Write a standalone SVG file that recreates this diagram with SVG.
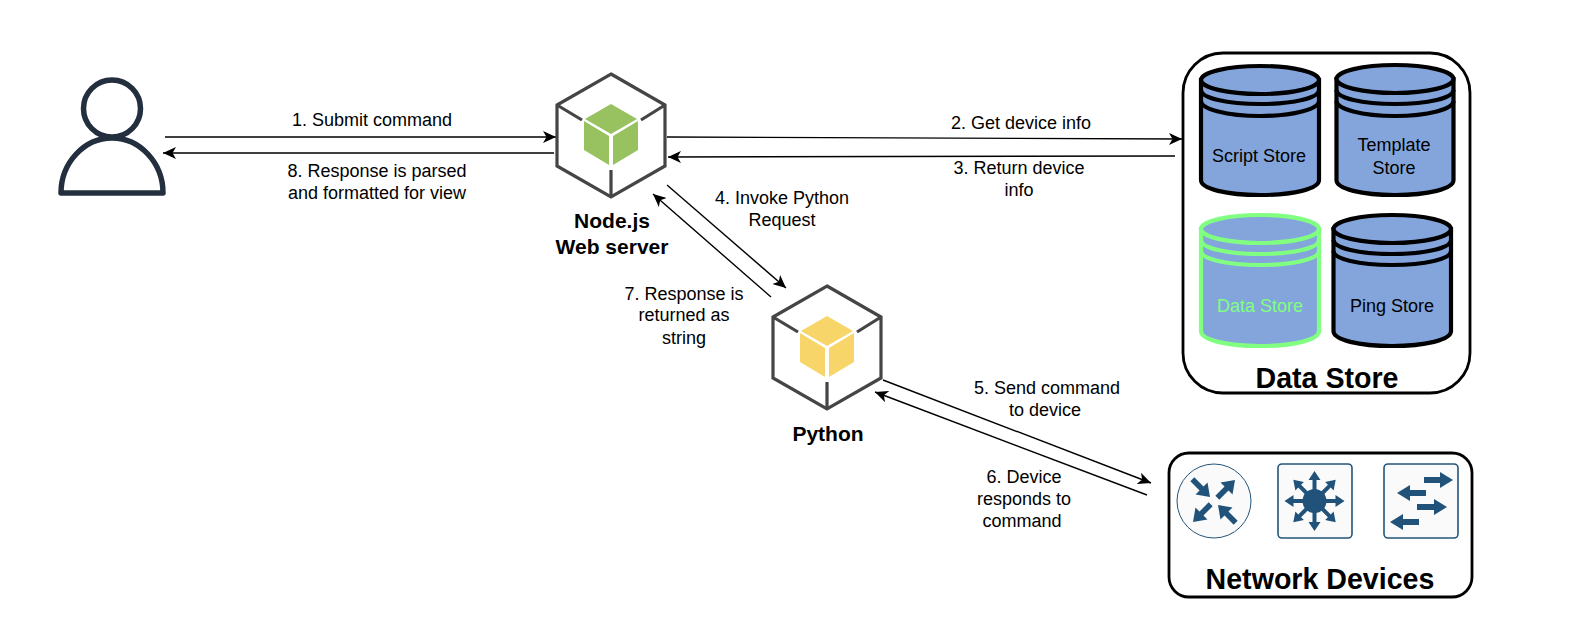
<svg xmlns="http://www.w3.org/2000/svg" width="1574" height="642" viewBox="0 0 1574 642">
<style>
text{font-family:"Liberation Sans",Arial,sans-serif;text-anchor:middle;fill:#000}
.l{font-size:18px}
.b{font-weight:bold;font-size:21px}
.t{font-weight:bold;font-size:28.600px}
.c{fill:none;stroke:#000;stroke-width:1.4}
.hex{fill:none;stroke:#454545;stroke-width:3.2}
.box{fill:#fff;stroke:#000;stroke-width:2.8}
.dev{fill:#fafafa;stroke:#23557a;stroke-width:1.6}
.da{fill:#21527a;stroke:none}
.db{fill:#84a5dc;stroke:#000;stroke-width:4.2}
.db .n{fill:none}
.db text{stroke:none}
.green{stroke:#80ff80}
</style>
<defs>
<marker id="a" markerWidth="15" markerHeight="12" refX="13" refY="6" orient="auto" markerUnits="userSpaceOnUse"><path d="M0,0 L13,6 L0,12 L3.5,6 Z" fill="#000"/></marker>
<g id="cube">
<path class="hex" d="M0,-61 L54,-30 V31 L0,62 L-54,31 V-30 Z M-54,-30 L-29,-15 M54,-30 L30,-15 M0,35 V62"/>
</g>
<path id="spoke" d="M-2,0 V-21 H-6 L0,-30 L6,-21 H2 V0 Z"/>
<path id="rarrow" d="M-2.800,25 V12 H-8.500 L0,0 L8.500,12 H2.800 V25 Z"/>
</defs>
<rect width="1574" height="642" fill="#fff"/>

<g id="connectors">
<path class="c" marker-end="url(#a)" d="M165,137 L556,137"/>
<path class="c" marker-end="url(#a)" d="M554,153 L163,153"/>
<path class="c" marker-end="url(#a)" d="M667,137 L1182,139"/>
<path class="c" marker-end="url(#a)" d="M1175,156 L668,157"/>
<path class="c" marker-end="url(#a)" d="M667,185 L786,288"/>
<path class="c" marker-end="url(#a)" d="M771,297 L653,194"/>
<path class="c" marker-end="url(#a)" d="M883,380 L1151,483"/>
<path class="c" marker-end="url(#a)" d="M1147,495 L875,392"/>
</g>
<g id="connector-labels">
<text class="l" x="372" y="126">1. Submit command</text>
<text class="l" x="377" y="177">8. Response is parsed</text>
<text class="l" x="377" y="199">and formatted for view</text>
<text class="l" x="1021" y="129">2. Get device info</text>
<text class="l" x="1019" y="174">3. Return device</text>
<text class="l" x="1019" y="196">info</text>
<text class="l" x="782" y="204">4. Invoke Python</text>
<text class="l" x="782" y="226">Request</text>
<text class="l" x="684" y="300">7. Response is</text>
<text class="l" x="684" y="321">returned as</text>
<text class="l" x="684" y="344">string</text>
<text class="l" x="1047" y="394">5. Send command</text>
<text class="l" x="1045" y="416">to device</text>
<text class="l" x="1024" y="483">6. Device</text>
<text class="l" x="1024" y="505">responds to</text>
<text class="l" x="1022" y="527">command</text>
</g>

<g id="user" fill="none" stroke="#232f3e" stroke-width="5.500" stroke-linejoin="round">
<circle cx="112" cy="108.500" r="28.500"/>
<path d="M61,193 C61,163 84,138 112,138 C140,138 163,163 163,193 Z"/>
</g>

<g id="nodejs">
<g transform="translate(611,135)">
<use href="#cube"/>
<path fill="#97c25f" d="M0,-31 L26,-16 L0,-1 L-26,-16 Z M-27,-14 L-2,1 V30 L-27,15 Z M27,-14 L2,1 V30 L27,15 Z"/>
</g>
<text class="b" x="612" y="228">Node.js</text>
<text class="b" x="612" y="254">Web server</text>
</g>

<g id="python">
<g transform="translate(827,347)">
<use href="#cube"/>
<path fill="#f8d568" d="M0,-31 L26,-16 L0,-1 L-26,-16 Z M-27,-14 L-2,1 V30 L-27,15 Z M27,-14 L2,1 V30 L27,15 Z"/>
</g>
<text class="b" x="828" y="441">Python</text>
</g>

<g id="data-store">
<rect class="box" x="1183" y="53" width="287" height="340" rx="40"/>
<text class="t" x="1327" y="388">Data Store</text>
</g>

<g id="script-store" class="db">
<path d="M1201,80 V180 C1201,189 1227,195 1260,195 C1293,195 1319,189 1319,180 V80 Z"/>
<ellipse cx="1260" cy="80" rx="59" ry="14"/>
<path class="n" d="M1201,90 C1201,98 1227,104 1260,104 C1293,104 1319,98 1319,90 M1201,101 C1201,109 1227,116 1260,116 C1293,116 1319,109 1319,101"/>
<text class="l" x="1259" y="162">Script Store</text>
</g>
<g id="template-store" class="db">
<path d="M1336.500,79 V180 C1336.500,189 1362,195 1395,195 C1428,195 1453.500,189 1453.500,180 V79 Z"/>
<ellipse cx="1395" cy="79" rx="58.500" ry="14"/>
<path class="n" d="M1336.500,90 C1336.500,98 1362,104 1395,104 C1428,104 1453.500,98 1453.500,90 M1336.500,101 C1336.500,109 1362,116 1395,116 C1428,116 1453.500,109 1453.500,101"/>
<text class="l" x="1394" y="151">Template</text>
<text class="l" x="1394" y="174">Store</text>
</g>
<g id="data-store-db" class="db green">
<path d="M1201,229 V331 C1201,340 1227,346 1260,346 C1293,346 1319,340 1319,331 V229 Z"/>
<ellipse cx="1260" cy="229" rx="59" ry="14"/>
<path class="n" d="M1201,240 C1201,248 1227,254 1260,254 C1293,254 1319,248 1319,240 M1201,251 C1201,259 1227,265 1260,265 C1293,265 1319,259 1319,251"/>
<text class="l" x="1260" y="312" style="fill:#80ff80">Data Store</text>
</g>
<g id="ping-store" class="db">
<path d="M1333.500,229 V331 C1333.500,340 1359,346 1392,346 C1425,346 1451,340 1451,331 V229 Z"/>
<ellipse cx="1392.250" cy="229" rx="58.750" ry="14"/>
<path class="n" d="M1333.500,240 C1333.500,248 1359,254 1392,254 C1425,254 1451,248 1451,240 M1333.500,251 C1333.500,259 1359,265 1392,265 C1425,265 1451,259 1451,251"/>
<text class="l" x="1392" y="312">Ping Store</text>
</g>

<g id="network-devices">
<rect class="box" x="1169" y="453" width="303" height="144" rx="20"/>
<text class="t" x="1320" y="589">Network Devices</text>
</g>
<g id="router">
<circle cx="1214" cy="501" r="37" fill="#fafafa" stroke="#23557a" stroke-width="1"/>
<g class="da">
<use href="#rarrow" transform="translate(1210,497) rotate(135)"/>
<use href="#rarrow" transform="translate(1235,480) rotate(45)"/>
<use href="#rarrow" transform="translate(1193,522) rotate(225)"/>
<use href="#rarrow" transform="translate(1218,505) rotate(315)"/>
</g>
</g>
<g id="multilayer-switch">
<rect class="dev" x="1278" y="464" width="74" height="74" rx="4"/>
<g class="da" transform="translate(1314.500,501)">
<circle r="12"/>
<use href="#spoke"/>
<use href="#spoke" transform="rotate(45)"/>
<use href="#spoke" transform="rotate(90)"/>
<use href="#spoke" transform="rotate(135)"/>
<use href="#spoke" transform="rotate(180)"/>
<use href="#spoke" transform="rotate(225)"/>
<use href="#spoke" transform="rotate(270)"/>
<use href="#spoke" transform="rotate(315)"/>
</g>
</g>
<g id="switch">
<rect class="dev" x="1384" y="464" width="74" height="74" rx="4"/>
<g class="da">
<path d="M1424,477 H1440 V472 L1453,480 L1440,488 V483 H1424 Z"/>
<path d="M1426,490 H1410 V485 L1397,493 L1410,501 V496 H1426 Z"/>
<path d="M1417,504 H1434 V499 L1447,507 L1434,515 V510 H1417 Z"/>
<path d="M1419,519 H1403 V514 L1390,522 L1403,530 V525 H1419 Z"/>
</g>
</g>
</svg>
